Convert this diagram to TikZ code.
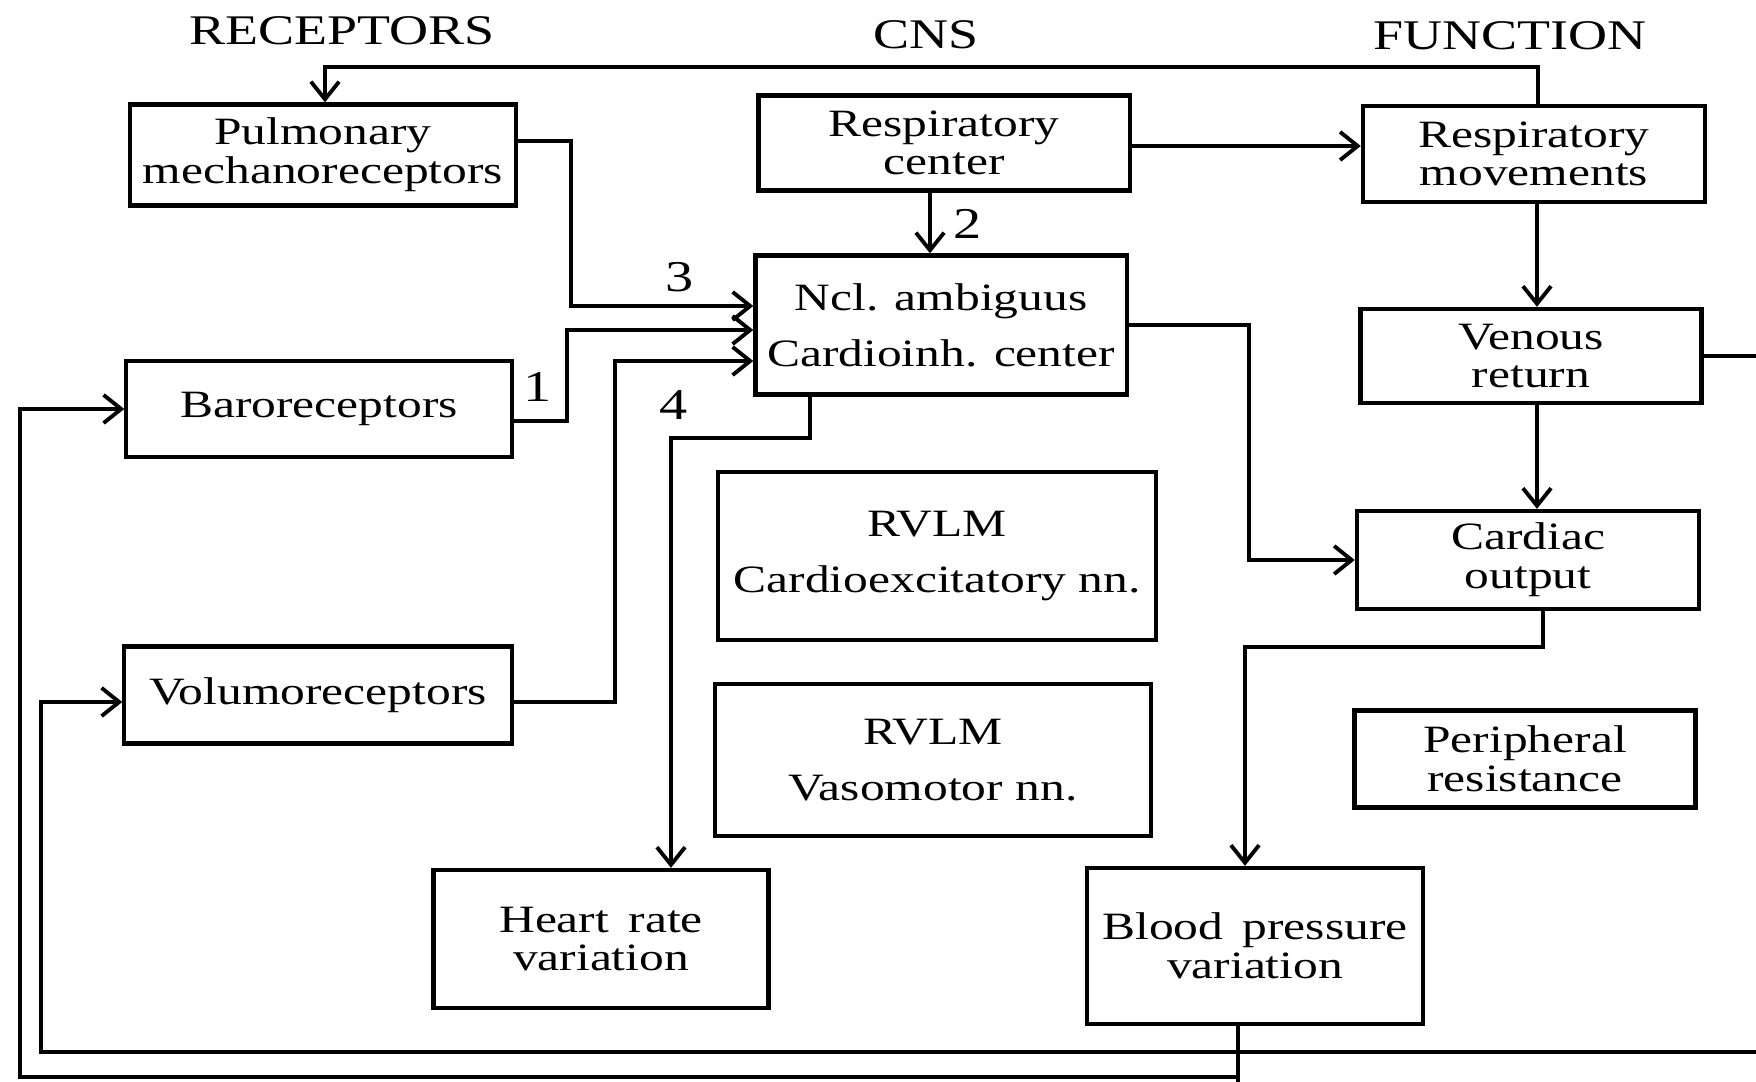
\documentclass[tikz,border=0pt]{standalone}
\usepackage{fontspec}
\setmainfont{Liberation Serif}[FakeStretch=1.28]
\usetikzlibrary{arrows.meta}

\begin{document}
\begin{tikzpicture}[x=0.01cm, y=-0.01cm, line width=1.1pt,
    box/.style={draw, line width=1.2pt, align=center, inner sep=0pt,
      font=\fontsize{11}{11}\selectfont},
    head/.style={font=\fontsize{12}{13}\selectfont},
    num/.style={font=\fontsize{12.5}{13}\selectfont},
    arr/.style={-{Straight Barb[length=5pt,width=8pt,line width=1.1pt]}}]
  \useasboundingbox (0,0) rectangle (1756,1082);

  %% titles
  \node[head] (trec) at (342,31) {RECEPTORS};
  \node[head] (tcns) at (926,35) {CNS};
  \node[head] (tfun) at (1510,36) {FUNCTION};

  %% receptors
  \node[box, minimum width=3.85cm, minimum height=1.01cm] (pulm) at (323,155) {Pulmonary\\mechanoreceptors};
  \node[box, minimum width=3.85cm, minimum height=0.96cm] (baro) at (319,409) {Baroreceptors};
  \node[box, minimum width=3.87cm, minimum height=0.97cm] (volumo) at (318,695) {Volumoreceptors};

  %% cns
  \node[box, minimum width=3.71cm, minimum height=0.95cm] (respc) at (944,143) {Respiratory\\center};
  \node[box, minimum width=3.71cm, minimum height=1.39cm] (ncl) at (941,325) {Ncl. ambiguus\\[5pt]Cardioinh. center};
  \node[box, minimum width=4.38cm, minimum height=1.68cm] (rvlmc) at (937,556) {RVLM\\[5pt]Cardioexcitatory nn.};
  \node[box, minimum width=4.36cm, minimum height=1.52cm] (rvlmv) at (933,760) {RVLM\\[5pt]Vasomotor nn.};
  \node[box, minimum width=3.35cm, minimum height=1.38cm] (hr) at (601,939) {Heart\enspace rate\\variation};

  %% function
  \node[box, minimum width=3.42cm, minimum height=0.96cm] (respm) at (1534,154) {Respiratory\\movements};
  \node[box, minimum width=3.41cm, minimum height=0.94cm] (venous) at (1531,356) {Venous\\return};
  \node[box, minimum width=3.42cm, minimum height=0.98cm] (cardiac) at (1528,560) {Cardiac\\output};
  \node[box, minimum width=3.41cm, minimum height=0.97cm] (periph) at (1525,759) {Peripheral\\resistance};
  \node[box, minimum width=3.36cm, minimum height=1.56cm] (bp) at (1255,946) {Blood\enspace pressure\\variation};

  %% inputs to ncl
  \draw[arr] (pulm.east |- 0,141) -| (571,306) -- (ncl.west |- 0,306);
  \draw[arr] (baro.east |- 0,421) -| (567,330) -- (ncl.west |- 0,330);
  \draw[arr] (volumo.east |- 0,702) -| (615,361) -- (ncl.west |- 0,361);
  \draw[arr] (respc.south -| 930,0) -- (ncl.north -| 930,0);
  \node[num] (n3) at (680,277) {3};
  \node[num] (n1) at (538,387) {1};
  \node[num] (n4) at (674,405) {4};
  \node[num] (n2) at (968,224) {2};

  %% outputs
  \draw[arr] (ncl.south -| 810,0) |- (671,438) -- (hr.north -| 671,0);
  \draw[arr] (ncl.east) -| (1249,560) -- (cardiac.west);
  \draw[arr] (respc.east |- 0,146) -- (respm.west |- 0,146);
  \draw[arr] (respm.north -| 1538,0) |- (325,67) -- (pulm.north -| 325,0);
  \draw[arr] (respm.south -| 1537,0) -- (venous.north -| 1537,0);
  \draw[arr] (venous.south -| 1537,0) -- (cardiac.north -| 1537,0);
  \draw[arr] (cardiac.south -| 1543,0) |- (1245,647) -- (bp.north -| 1245,0);

  %% loops back
  \coordinate (vout) at (1756,356);
  \coordinate (bpout) at (1238,1082);
  \coordinate (rtin) at (1756,1052);
  \draw (venous.east) -- (vout);
  \draw (bp.south -| bpout) -- (bpout);
  \draw[arr] (bp.south -| 1238,0) |- (20,1077) |- (baro.west);
  \draw[arr] (rtin) -| (41,702) -- (volumo.west |- 0,702);
\end{tikzpicture}
\end{document}
